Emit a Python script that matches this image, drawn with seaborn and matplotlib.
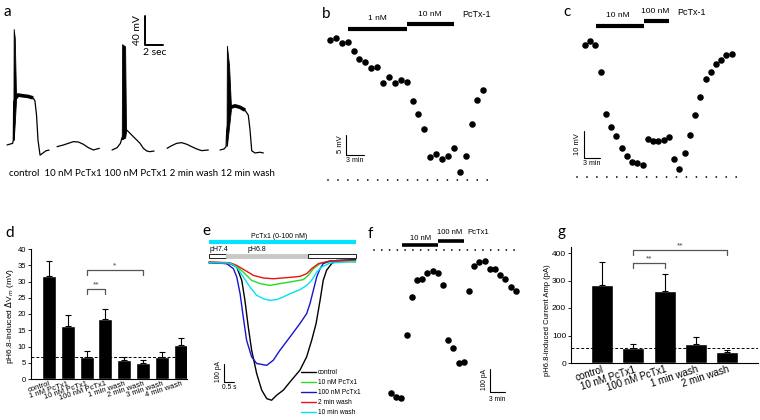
import matplotlib
matplotlib.use("Agg")
import matplotlib.pyplot as plt
import seaborn as sns
from matplotlib.patches import Rectangle
from matplotlib.lines import Line2D

# ---------------- data ----------------
# panel a: voltage traces (time s, mV above resting level)
a_offsets = [0, 5.56, 11.67, 17.78, 23.67]
a_ctrl_t = [0, 0.63, 0.70, 0.74, 1.0, 1.22, 1.67, 2.33, 2.89, 3.10, 3.28, 3.44, 3.67, 4.0, 4.33, 4.67]
a_ctrl_mv = [0, 2.3, 7, 60, 65, 69, 68, 67, 65, 61, 41, 7, -14, -11, -8, -7]
a_ctrl_plat_t = [1.0, 1.22, 1.67, 2.33, 2.89]
a_ctrl_plat_mv = [65, 69, 68, 67, 65]
a_ctrl_spike_t = [0.70, 0.74, 0.86, 1.0]
a_ctrl_spike_hi = [7, 160, 148, 68]
a_ctrl_spike_lo = [7, 7, 30, 62]

a_10nm_t = [0, 0.7, 1.26, 1.81, 2.37, 2.92, 3.48, 4.04, 4.7]
a_10nm_mv = [-2.3, 0, 2.3, 4.6, 4.1, 1.0, -3.7, -6.9, -4.6]

a_100nm_t = [0, 0.56, 0.93, 1.1, 1.5, 1.63, 2.0, 2.37, 2.74, 3.11, 3.48, 3.86, 4.22, 4.67]
a_100nm_mv = [-6.9, -3.7, 2.3, 9.7, 18, 20.7, 16.1, 11.4, 6.9, 2.3, -4.6, -8.3, -9.2, -8.3]
a_100nm_spike_t = [1.08, 1.12, 1.45, 1.55]
a_100nm_spike_hi = [8, 139, 136, 22]
a_100nm_spike_lo = [8, 8, 10, 18]

a_2min_t = [0, 0.52, 1.07, 1.63, 2.19, 2.74, 3.3, 3.85, 4.59]
a_2min_mv = [-4.6, -0.9, 2.3, 3.2, 1.0, -2.3, -5.5, -7.8, -6.9]

a_12min_t = [0, 0.44, 0.67, 0.74, 1.19, 1.67, 2.22, 2.78, 3.14, 3.33, 3.52, 3.89, 4.44, 4.81]
a_12min_mv = [-6.9, -5.5, -2.3, 20, 52, 54, 52, 48, 41, 21, -8, -11, -10, -11]
a_12min_plat_t = [1.19, 1.67, 2.22, 2.78]
a_12min_plat_mv = [52, 54, 52, 48]
a_12min_spike_t = [0.72, 0.76, 1.0, 1.2]
a_12min_spike_hi = [-1, 137, 110, 56]
a_12min_spike_lo = [-1, -1, 25, 48]

a_caption = "control  10 nM PcTx1 100 nM PcTx1 2 min wash 12 min wash"

# panel b: depolarisation time course (min, mV)
b_mv = [35, 35.4, 34.2, 34.6, 32.3, 30.2, 29.5, 28.1, 28.3, 24.3, 25.7, 24.2, 25, 24.4,
        19.75, 16.4, 12.75, 5.8, 6.5, 5.2, 6, 8.1, 1.9, 6, 14, 20, 22.5]
b_time = list(range(len(b_mv)))
b_drug = [("1 nM", 3.0, 13.0), ("10 nM", 13.0, 21.0)]

# panel c
c_mv = [48.4, 49.6, 48.2, 38.4, 22.9, 18.3, 14.9, 10.4, 7.7, 5.5, 5.1, 4.3, 13.7, 12.9, 12.9,
        13.3, 14.4, 6.5, 2.7, 8.8, 15.2, 22.6, 29.3, 35.9, 38.4, 41.1, 42.7, 44.6, 45.1]
c_time = list(range(len(c_mv)))
c_drug = [("10 nM", 2.1, 11.3), ("100 nM", 11.3, 16.0)]

# panel d
d_labels = ["control", "1 nM PcTx1", "10 nM PcTx1", "100 nM PcTx1",
            "1 min wash", "2 min wash", "3 min wash", "4 min wash"]
d_means = [31.8, 16.4, 6.8, 18.4, 6.0, 4.9, 6.8, 10.6]
d_sem = [4.6, 3.2, 1.8, 3.1, 0.8, 1.1, 1.55, 1.9]
d_baseline = 6.8
d_sig = [(2, 3, 27.6, "**"), (2, 5, 33.4, "*")]

# panel e: current traces (s, pA)
e_names = ["control", "10 nM PcTx1", "100 nM PcTx1", "2 min wash", "10 min wash"]
e_colors = ["#000000", "#22dd22", "#1515d0", "#ee1111", "#00e2f2"]
e_ctrl_t = [0, 1.0, 1.32, 1.56, 1.71, 1.87, 2.03, 2.27, 2.51, 2.75, 2.98, 3.22, 3.54, 3.86, 4.33,
            4.65, 4.89, 5.10, 5.29, 5.44, 5.60, 5.84, 6.08, 6.98]
e_ctrl_pa = [-4, -9, -28, -102, -213, -361, -490, -620, -712, -759, -768, -740, -712, -666, -601,
             -527, -435, -342, -213, -102, -46, -9, 9, 13]
e_100_t = [0, 0.84, 1.16, 1.32, 1.48, 1.63, 1.79, 2.03, 2.27, 2.75, 3.06, 3.38, 3.86, 4.33, 4.65,
           4.81, 4.97, 5.13, 5.29, 5.44, 5.76, 6.98]
e_100_pa = [-4, -9, -37, -83, -176, -305, -435, -527, -564, -574, -546, -490, -416, -342, -287,
            -231, -157, -83, -37, -9, 6, 9]
e_10min_t = [0, 1.0, 1.32, 1.63, 1.95, 2.27, 2.59, 2.90, 3.22, 3.54, 3.86, 4.33, 4.65, 4.89, 5.13,
             5.37, 5.76, 6.98]
e_10min_pa = [-4, -6, -28, -83, -139, -185, -204, -213, -209, -194, -176, -154, -130, -102, -56,
              -28, -6, 4]
e_10_t = [0, 1.0, 1.32, 1.63, 2.03, 2.43, 2.90, 3.38, 3.86, 4.49, 4.73, 4.97, 5.29, 5.92, 6.98]
e_10_pa = [0, -6, -24, -56, -102, -120, -130, -120, -111, -98, -74, -37, -9, 4, 0]
e_2min_t = [0, 1.0, 1.32, 1.71, 2.11, 2.59, 3.06, 3.70, 4.33, 4.65, 4.89, 5.21, 5.76, 6.98]
e_2min_pa = [0, -4, -19, -46, -74, -89, -93, -87, -80, -65, -37, -9, 6, 9]
e_ph_segments = [("pH7.4", 0.0, 0.81, "white"), ("pH6.8", 0.81, 4.71, "#c8c8c8"), ("", 4.71, 7.0, "white")]

# panel f: current time course (min, pA)
f_pa = [-622, -639, -643, -370, -204, -130, -126, -100, -91, -100, -152, -391, -426, -491, -487,
        -178, -70, -52, -48, -83, -83, -109, -126, -161, -178]
f_time = list(range(len(f_pa)))
f_drug = [("10 nM", 2.1, 9.0), ("100 nM", 9.0, 14.0)]

# panel g
g_labels = ["control", "10 nM PcTx1", "100 nM PcTx1", "1 min wash", "2 min wash"]
g_means = [282, 55, 261, 69, 39]
g_sem = [85, 14, 64, 24, 9]
g_baseline = 55
g_sig = [(1, 2, 364, "**"), (1, 4, 412, "**")]

# ---------------- style ----------------
sns.set_theme(style="white")
plt.rcParams['font.family'] = ['Liberation Sans', 'DejaVu Sans']
for k in ['axes.edgecolor', 'text.color', 'xtick.color', 'ytick.color', 'axes.labelcolor']:
    plt.rcParams[k] = 'black'
plt.rcParams['axes.linewidth'] = 0.8
NARROW = ['Liberation Sans Narrow', 'Liberation Sans', 'DejaVu Sans']
CAL = ['Lato', 'DejaVu Sans']

W, H = 760, 420
fig = plt.figure(figsize=(7.6, 4.2), dpi=100)


def px_axes(x0, y0, x1, y1):
    return fig.add_axes([x0 / W, 1 - y1 / H, (x1 - x0) / W, (y1 - y0) / H])


def px_text(x, y, s, **kw):
    fig.text(x / W, 1 - y / H, s, **kw)


def dotted(ax, x0, x1, gap):
    ax.plot([x0, x1], [0, 0], color='black', lw=1.3, linestyle=(0, (0.01, gap)),
            dash_capstyle='round')


def drug_bars(ax, drug, ys, lw=3):
    for (name, t0, t1), y in zip(drug, ys):
        ax.plot([t0, t1], [y, y], color='black', lw=lw, solid_capstyle='butt')


def scale_bar(ax, x, y, dx, dy, lw=0.8):
    ax.plot([x, x, x + dx], [y + dy, y, y], color='black', lw=lw)


# panel letters
for letter, x, y in [("a", 4, 12), ("b", 322, 14), ("c", 563, 12), ("d", 5, 233),
                     ("e", 202, 231), ("f", 368, 234), ("g", 557, 232)]:
    px_text(x, y, letter, fontsize=11, family=CAL, va='center')

# ---------------- panel a ----------------
ax = px_axes(0, 10, 270, 165)
ax.set_xlim(-0.78, 29.22)
ax.set_ylim(-27.6, 186.2)
ax.axis('off')
traces = [(a_ctrl_t, a_ctrl_mv), (a_10nm_t, a_10nm_mv), (a_100nm_t, a_100nm_mv),
          (a_2min_t, a_2min_mv), (a_12min_t, a_12min_mv)]
for off, (t, v) in zip(a_offsets, traces):
    sns.lineplot(x=[off + ti for ti in t], y=v, sort=False, estimator=None,
                 color='black', lw=0.9, ax=ax)
for off, t, v in [(a_offsets[0], a_ctrl_plat_t, a_ctrl_plat_mv),
                  (a_offsets[4], a_12min_plat_t, a_12min_plat_mv)]:
    ax.plot([off + ti for ti in t], v, color='black', lw=2.6, solid_capstyle='butt')
for off, t, lo, hi in [(a_offsets[0], a_ctrl_spike_t, a_ctrl_spike_lo, a_ctrl_spike_hi),
                       (a_offsets[2], a_100nm_spike_t, a_100nm_spike_lo, a_100nm_spike_hi),
                       (a_offsets[4], a_12min_spike_t, a_12min_spike_lo, a_12min_spike_hi)]:
    ax.fill_between([off + ti for ti in t], lo, hi, color='black', lw=0.6)
scale_bar(ax, 15.33, 138, 2, 40, lw=1.4)
ax.text(14.5, 158, "40 mV", rotation=90, ha='center', va='center', fontsize=7.5, family=CAL)
ax.text(16.4, 127, "2 sec", ha='center', va='center', fontsize=7.5, family=CAL)
px_text(9, 173, a_caption, fontsize=7.0, family=CAL, va='center')

# ---------------- panel b ----------------
ax = px_axes(320, 0, 495, 195)
ax.set_xlim(-1.69, 27.97)
ax.set_ylim(-3.75, 45)
ax.axis('off')
sns.scatterplot(x=b_time, y=b_mv, color='black', s=22, linewidth=0, ax=ax)
dotted(ax, -0.34, 26.8, 5.5)
drug_bars(ax, b_drug, [37.75, 39.0])
ax.text(8.1, 40.3, "1 nM", ha='center', va='center', fontsize=6, family=NARROW)
ax.text(17.0, 41.5, "10 nM", ha='center', va='center', fontsize=6, family=NARROW)
ax.text(22.4, 41.3, "PcTx-1", ha='left', va='center', fontsize=6.5, family=NARROW)
scale_bar(ax, 2.7, 6.25, 3, 5)
ax.text(1.7, 8.9, "5 mV", rotation=90, ha='center', va='center', fontsize=5.5, family=NARROW)
ax.text(4.2, 4.9, "3 min", ha='center', va='center', fontsize=5, family=NARROW)

# ---------------- panel c ----------------
ax = px_axes(570, 0, 745, 190)
ax.set_xlim(-2.86, 30.53)
ax.set_ylim(-4.87, 64.7)
ax.axis('off')
sns.scatterplot(x=c_time, y=c_mv, color='black', s=22, linewidth=0, ax=ax)
dotted(ax, -1.53, 29.0, 5.5)
drug_bars(ax, c_drug, [55.2, 57.1])
ax.text(6.3, 58.9, "10 nM", ha='center', va='center', fontsize=6, family=NARROW)
ax.text(13.4, 60.6, "100 nM", ha='center', va='center', fontsize=6, family=NARROW)
ax.text(17.6, 60.3, "PcTx-1", ha='left', va='center', fontsize=6.5, family=NARROW)
scale_bar(ax, -0.2, 6.85, 3, 10)
ax.text(-1.5, 11.8, "10 mV", rotation=90, ha='center', va='center', fontsize=5.5, family=NARROW)
ax.text(1.3, 5.0, "3 min", ha='center', va='center', fontsize=5, family=NARROW)

# ---------------- panel d ----------------
ax = px_axes(31, 249, 187, 379)
sns.barplot(x=d_labels, y=d_means, order=d_labels, color='black', saturation=1,
            width=0.74, ax=ax)
ax.errorbar(range(len(d_means)), d_means, yerr=[[0] * len(d_sem), d_sem], fmt='none',
            ecolor='black', elinewidth=0.8, capsize=2, capthick=0.8)
ax.axhline(d_baseline, color='black', ls=(0, (3, 2)), lw=0.7)
for x0, x1, y, s in d_sig:
    ax.plot([x0, x0, x1, x1], [y - 1.4, y, y, y - 1.4], color='#555555', lw=0.9, clip_on=False)
    ax.text((x0 + x1) / 2, y + 0.3, s, ha='center', va='bottom', fontsize=6, color='#444444')
ax.set_xlim(-0.94, 7.32)
ax.set_ylim(0, 40)
ax.set_yticks(range(0, 41, 5))
ax.tick_params(axis='y', left=True, length=2, width=0.6, labelsize=5.5, pad=1.5)
ax.tick_params(axis='x', length=0, labelsize=5.5, pad=1)
ax.set_xticks(range(len(d_labels)))
ax.set_xticklabels(d_labels, rotation=18, ha='right', rotation_mode='anchor')
ax.set_xlabel('')
ax.set_ylabel(r'pH6.8-induced $\Delta$V$_m$ (mV)', fontsize=6)
ax.yaxis.set_label_coords(-0.095, 0.485)
sns.despine(ax=ax)

# ---------------- panel e ----------------
ax = px_axes(200, 228, 365, 418)
ax.set_xlim(-0.43, 7.43)
ax.set_ylim(-866.7, 188.9)
ax.axis('off')
e_series = [(e_ctrl_t, e_ctrl_pa), (e_10_t, e_10_pa), (e_100_t, e_100_pa),
            (e_2min_t, e_2min_pa), (e_10min_t, e_10min_pa)]
for (t, p), col in zip(e_series, e_colors):
    sns.lineplot(x=t, y=p, sort=False, estimator=None, color=col, lw=1.0, ax=ax)
ax.plot([0, 7.0], [111, 111], color='#00e5ff', lw=3, solid_capstyle='butt')
ax.text(3.33, 140, "PcTx1 (0-100 nM)", ha='center', va='center', fontsize=5, family=NARROW)
for name, t0, t1, col in e_ph_segments:
    ax.add_patch(Rectangle((t0, 25), t1 - t0, 17, facecolor=col,
                           edgecolor='black' if col == 'white' else col, lw=0.6))
    if name:
        ax.text(t0 + (0.0 if name == "pH7.4" else 1.0), 67, name, ha='left', va='center',
                fontsize=5, family=NARROW)
scale_bar(ax, 0.71, -667, 0.5, 100)
ax.text(0.43, -611, "100 pA", rotation=90, ha='center', va='center', fontsize=4.8, family=NARROW)
ax.text(0.95, -700, "0.5 s", ha='center', va='center', fontsize=4.8, family=NARROW)
handles = [Line2D([0], [0], color=c, lw=1) for c in e_colors]
ax.legend(handles, e_names, loc='upper left', bbox_to_anchor=(301 / W, 1 - 369 / H),
          bbox_transform=fig.transFigure, frameon=False, handlelength=2.2,
          handletextpad=0.3, labelspacing=0.45, borderpad=0, borderaxespad=0,
          prop={'family': NARROW, 'size': 4.8})

# ---------------- panel f ----------------
ax = px_axes(370, 228, 520, 405)
ax.set_xlim(-4.04, 24.8)
ax.set_ylim(-674, 95.7)
ax.axis('off')
sns.scatterplot(x=f_time, y=f_pa, color='black', s=22, linewidth=0, ax=ax)
dotted(ax, -3.27, 23.8, 4.3)
drug_bars(ax, f_drug, [21.7, 39.0], lw=2.6)
ax.text(5.6, 52, "10 nM", ha='center', va='center', fontsize=5.5, family=NARROW)
ax.text(11.2, 74, "100 nM", ha='center', va='center', fontsize=5.5, family=NARROW)
ax.text(14.6, 74, "PcTx1", ha='left', va='center', fontsize=5.5, family=NARROW)
scale_bar(ax, 19.0, -617, 3, 100)
ax.text(18.0, -565, "100 pA", rotation=90, ha='center', va='center', fontsize=4.8, family=NARROW)
ax.text(20.5, -648, "3 min", ha='center', va='center', fontsize=4.8, family=NARROW)

# ---------------- panel g ----------------
ax = px_axes(571, 247.5, 758, 363)
sns.barplot(x=g_labels, y=g_means, order=g_labels, color='black', saturation=1,
            width=0.7, ax=ax)
ax.errorbar(range(len(g_means)), g_means, yerr=[[0] * len(g_sem), g_sem], fmt='none',
            ecolor='black', elinewidth=0.8, capsize=2, capthick=0.8)
ax.axhline(g_baseline, color='black', ls=(0, (3, 2)), lw=0.7)
for x0, x1, y, s in g_sig:
    ax.plot([x0, x0, x1, x1], [y - 18, y, y, y - 18], color='#555555', lw=0.9, clip_on=False)
    ax.text((x0 + x1) / 2, y + 2, s, ha='center', va='bottom', fontsize=6, color='#444444')
ax.set_xlim(-0.99, 4.98)
ax.set_ylim(0, 420)
ax.set_yticks(range(0, 401, 100))
ax.tick_params(axis='y', left=True, length=2, width=0.6, labelsize=6, pad=1.5)
ax.tick_params(axis='x', length=0, labelsize=7, pad=1)
ax.set_xticks(range(len(g_labels)))
ax.set_xticklabels(g_labels, rotation=18, ha='right', rotation_mode='anchor')
ax.set_xlabel('')
ax.set_ylabel('pH6.8-induced Current Amp (pA)', fontsize=5.5)
ax.yaxis.set_label_coords(-0.105, 0.37)
sns.despine(ax=ax)

fig.savefig("out.png", dpi=100)
